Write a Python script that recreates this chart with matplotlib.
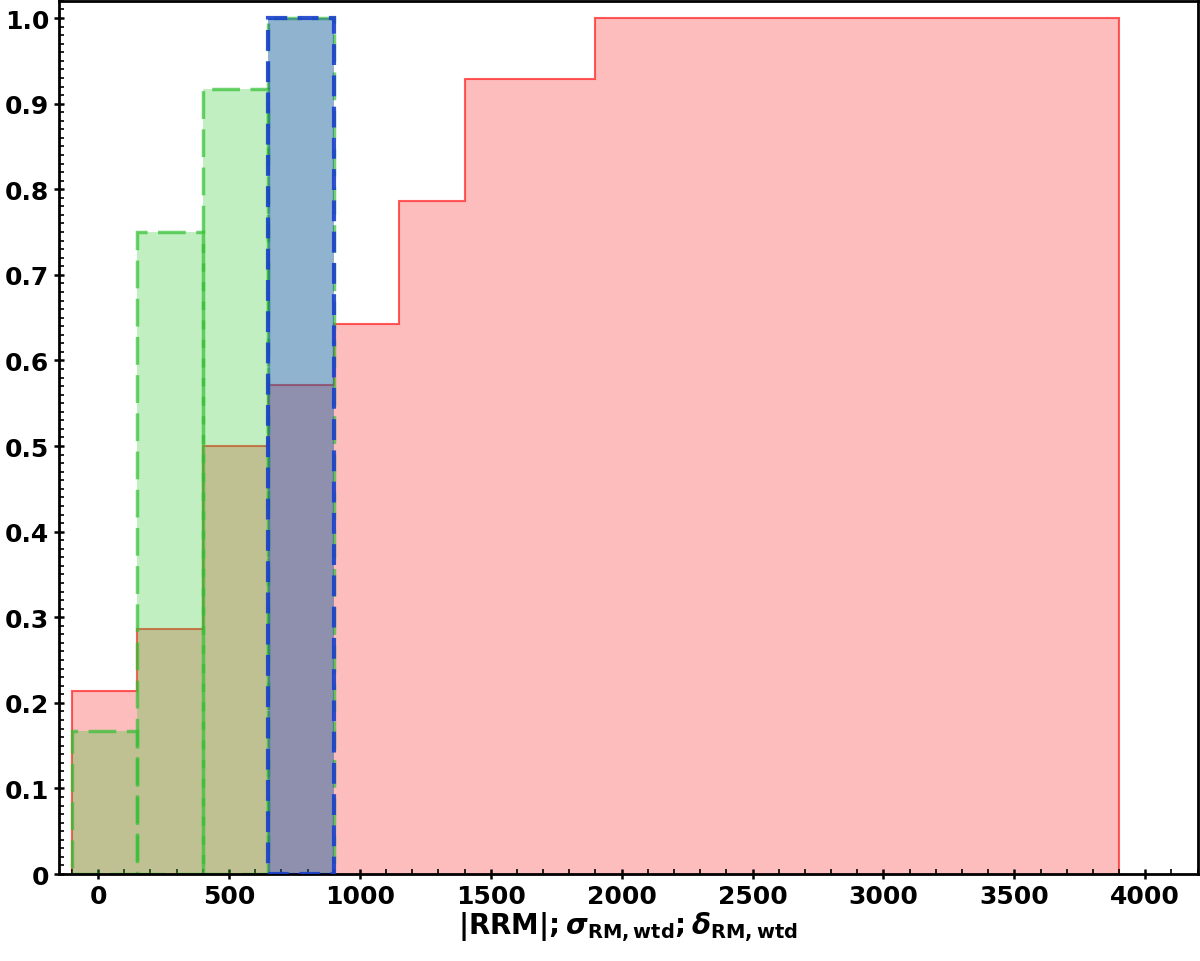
import numpy as np
import matplotlib
matplotlib.use("Agg")
import matplotlib.pyplot as plt
from matplotlib.ticker import MultipleLocator

# cumulative fractions per 250-wide bin
red_edges = [-100, 150, 400, 650, 900, 1150, 1400, 1650, 1900, 2150, 2400,
             2650, 2900, 3150, 3400, 3650, 3900]
red_cum = [3/14, 4/14, 7/14, 8/14, 9/14, 11/14, 13/14, 13/14, 1.0, 1.0, 1.0,
           1.0, 1.0, 1.0, 1.0, 1.0]

green_edges = [-100, 150, 400, 650, 900]
green_cum = [2/12, 9/12, 11/12, 1.0]

blue_edges = [650, 900]
blue_cum = [1.0]

xticks = [0, 500, 1000, 1500, 2000, 2500, 3000, 3500, 4000]
yticks = [0, 0.1, 0.2, 0.3, 0.4, 0.5, 0.6, 0.7, 0.8, 0.9, 1.0]
ytick_labels = ["0", "0.1", "0.2", "0.3", "0.4", "0.5", "0.6", "0.7", "0.8", "0.9", "1.0"]

plt.rcParams["font.family"] = "DejaVu Sans"
plt.rcParams["font.weight"] = "bold"
plt.rcParams["mathtext.fontset"] = "dejavusans"

fig = plt.figure(figsize=(12, 9.62), dpi=100)
ax = fig.add_axes([0.049, 0.0904, 0.949, 0.9076])

# red: filled step outline
ax.stairs(red_cum, red_edges, fill=True, facecolor=(0.98, 0.05, 0.05, 0.27),
          edgecolor="none", zorder=1)
ax.stairs(red_cum, red_edges, fill=True, facecolor="none",
          edgecolor=(1, 0.1, 0.1, 0.7), linewidth=1.5, zorder=1.1)

# green: bars with dashed edges
g_left = np.array(green_edges[:-1])
g_w = np.diff(green_edges)
ax.bar(g_left, green_cum, width=g_w, align="edge", color=(0.2, 0.8, 0.2, 0.3),
       edgecolor="none", zorder=2)
ax.bar(g_left, green_cum, width=g_w, align="edge", color="none",
       edgecolor=(0.2, 0.75, 0.2, 0.7), linewidth=2.5, linestyle=(0, (8, 3)),
       zorder=2.1)

# blue: bars with dashed edges
b_left = np.array(blue_edges[:-1])
b_w = np.diff(blue_edges)
ax.bar(b_left, blue_cum, width=b_w, align="edge", color=(0, 0, 1, 0.25),
       edgecolor="none", zorder=3)
ax.bar(b_left, blue_cum, width=b_w, align="edge", color="none",
       edgecolor=(0.1, 0.25, 0.8, 0.9), linewidth=3, linestyle=(0, (5, 2.5)),
       zorder=3.1)

ax.set_xlim(-150, 4200)
ax.set_ylim(0, 1.02)
ax.set_xticks(xticks)
ax.set_yticks(yticks)
ax.set_yticklabels(ytick_labels)
ax.xaxis.set_minor_locator(MultipleLocator(100))
ax.yaxis.set_minor_locator(MultipleLocator(0.01))

ax.tick_params(which="major", direction="inout", length=7, width=1.8,
               labelsize=18, top=False, right=False)
ax.tick_params(which="minor", direction="in", length=3.5, width=1.2,
               top=False, right=False)
for lab in ax.get_xticklabels() + ax.get_yticklabels():
    lab.set_fontweight("bold")
for sp in ax.spines.values():
    sp.set_linewidth(2)

ax.set_xlabel(r"$|\mathbf{RRM}|;\sigma_{\mathbf{RM,wtd}};\delta_{\mathbf{RM,wtd}}$",
              fontsize=20, labelpad=1)

fig.savefig("out.png", dpi=100)
